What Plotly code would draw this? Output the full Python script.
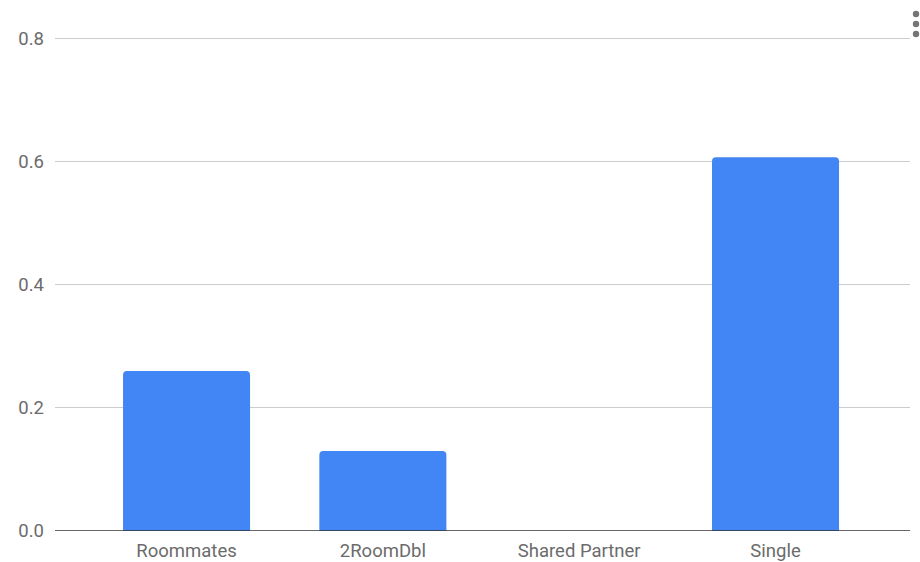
import plotly.graph_objects as go

categories = ["Roommates", "2RoomDbl", "Shared Partner", "Single"]
values = [0.26, 0.13, 0.0, 0.607]
y_ticks = [0.0, 0.2, 0.4, 0.6, 0.8]
y_tick_labels = ["0.0", "0.2", "0.4", "0.6", "0.8"]

W, H = 920, 562
ml, mr, mt, mb = 55, 10, 26, 31

fig = go.Figure()
fig.add_trace(go.Bar(
    x=categories, y=values,
    marker=dict(color="#4285F4", line=dict(width=0), cornerradius=4),
    hoverinfo="x+y",
))

fig.update_layout(
    width=W, height=H,
    margin=dict(l=ml, r=mr, t=mt, b=mb, pad=0, autoexpand=False),
    plot_bgcolor="white", paper_bgcolor="white",
    bargap=0.353,
    showlegend=False,
    font=dict(family="Roboto, Arial, sans-serif", size=18.5, color="#6b6b6b"),
    xaxis=dict(
        range=[-0.67, 3.685],
        showgrid=False, zeroline=False, showline=False,
        ticks="", tickfont=dict(size=18.5, color="#6b6b6b"),
        ticklabelstandoff=6, automargin=False,
        fixedrange=True,
    ),
    yaxis=dict(
        range=[0, 0.82],
        tickvals=y_ticks, ticktext=y_tick_labels,
        showgrid=True, gridcolor="#cccccc", gridwidth=1,
        zeroline=False, showline=False,
        ticks="", ticklabelstandoff=10, automargin=False,
        tickfont=dict(size=18.5, color="#6b6b6b"),
        fixedrange=True,
    ),
)

# baseline
fig.add_shape(type="line", xref="paper", yref="y", x0=0, x1=1, y0=0, y1=0,
              line=dict(color="#333333", width=1.5))

# menu dots (decoration)
pw = W - ml - mr
ph = H - mt - mb
for py in [14, 24, 34]:
    cx = (916 - ml) / pw
    cy = (H - mb - py) / ph
    rx = 3.2 / pw
    ry = 3.2 / ph
    fig.add_shape(type="circle", xref="paper", yref="paper",
                  x0=cx - rx, x1=cx + rx, y0=cy - ry, y1=cy + ry,
                  fillcolor="#757575", line=dict(width=0))

fig.write_html("out.html", config={"displayModeBar": False})
